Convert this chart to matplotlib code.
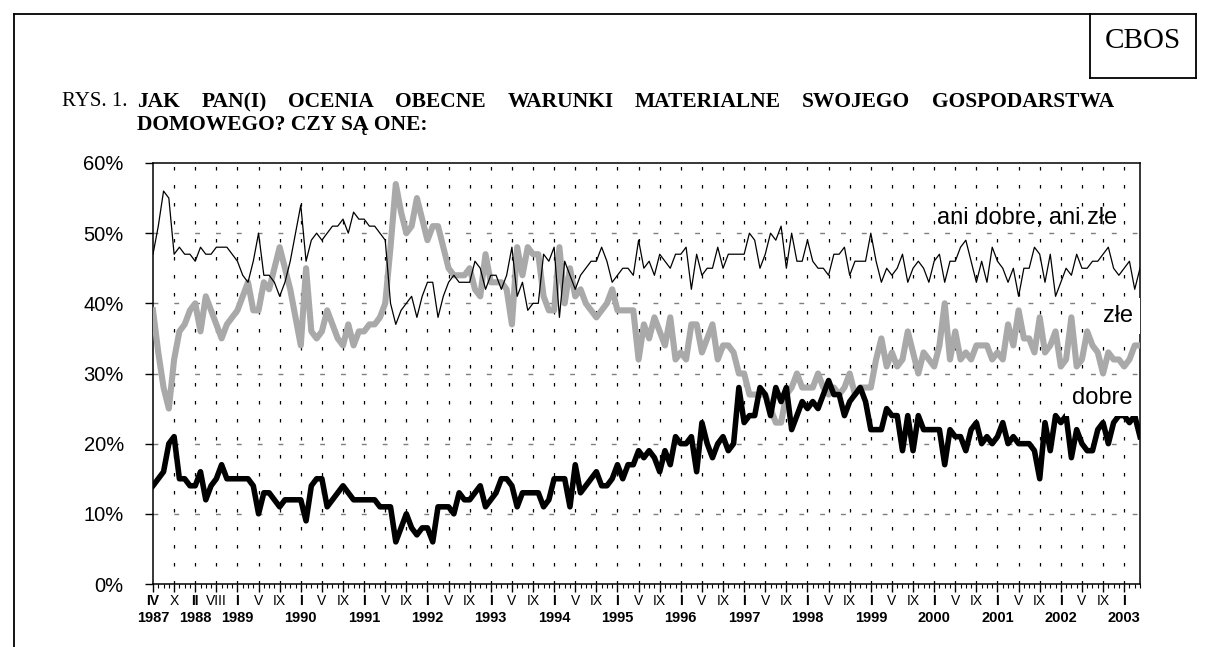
import matplotlib.pyplot as plt
from matplotlib.lines import Line2D

# Oceny warunkow materialnych (%), kolejne badania CBOS od IV 1987 do IV 2003
ani_dobre_ani_zle = [
    47, 51, 56, 55, 47, 48, 47, 47, 46, 48, 47, 47, 48, 48, 48, 47, 46, 44, 43, 46,
    50, 44, 44, 43, 41, 43, 46, 50, 54, 46, 49, 50, 49, 50, 51, 51, 52, 50, 53, 52,
    52, 51, 51, 50, 49, 40, 37, 39, 40, 41, 38, 41, 43, 43, 38, 41, 43, 44, 43, 43,
    43, 46, 45, 42, 44, 44, 42, 44, 48, 41, 43, 39, 40, 40, 47, 46, 48, 38, 46, 44,
    42, 44, 45, 46, 46, 48, 46, 43, 44, 45, 45, 44, 49, 45, 46, 44, 47, 46, 45, 47,
    47, 48, 42, 47, 44, 45, 45, 48, 45, 47, 47, 47, 47, 50, 49, 45, 47, 50, 49, 51,
    45, 50, 46, 46, 49, 46, 45, 45, 44, 47, 47, 48, 44, 46, 46, 46, 50, 46, 43, 45,
    44, 45, 47, 43, 45, 46, 45, 43, 46, 47, 43, 46, 46, 48, 49, 46, 43, 46, 43, 48,
    46, 45, 43, 45, 41, 45, 45, 48, 47, 43, 47, 41, 43, 45, 44, 47, 45, 45, 46, 46,
    47, 48, 45, 44, 45, 46, 42, 45,
]
zle = [
    39, 33, 28, 25, 32, 36, 37, 39, 40, 36, 41, 39, 37, 35, 37, 38, 39, 41, 43, 39,
    39, 43, 42, 45, 48, 45, 42, 38, 34, 45, 36, 35, 36, 39, 37, 35, 34, 37, 34, 36,
    36, 37, 37, 38, 40, 48, 57, 53, 50, 51, 55, 52, 49, 51, 51, 48, 45, 44, 44, 44,
    45, 42, 41, 47, 43, 43, 43, 42, 37, 48, 44, 48, 47, 47, 41, 39, 39, 48, 40, 45,
    41, 42, 40, 39, 38, 39, 40, 42, 39, 39, 39, 39, 32, 37, 35, 38, 36, 34, 38, 32,
    33, 32, 37, 37, 33, 35, 37, 32, 34, 34, 33, 30, 30, 27, 27, 27, 27, 25, 23, 23,
    27, 28, 30, 28, 28, 28, 30, 28, 27, 28, 27, 28, 30, 27, 28, 28, 28, 32, 35, 31,
    33, 31, 32, 36, 33, 30, 33, 32, 31, 34, 40, 32, 36, 32, 33, 32, 34, 34, 34, 32,
    33, 32, 37, 34, 39, 35, 35, 33, 38, 33, 34, 36, 31, 32, 38, 31, 32, 36, 34, 33,
    30, 33, 32, 32, 31, 32, 34, 34,
]
dobre = [
    14, 15, 16, 20, 21, 15, 15, 14, 14, 16, 12, 14, 15, 17, 15, 15, 15, 15, 15, 14,
    10, 13, 13, 12, 11, 12, 12, 12, 12, 9, 14, 15, 15, 11, 12, 13, 14, 13, 12, 12,
    12, 12, 12, 11, 11, 11, 6, 8, 10, 8, 7, 8, 8, 6, 11, 11, 11, 10, 13, 12,
    12, 13, 14, 11, 12, 13, 15, 15, 14, 11, 13, 13, 13, 13, 11, 12, 15, 15, 15, 11,
    17, 13, 14, 15, 16, 14, 14, 15, 17, 15, 17, 17, 19, 18, 19, 18, 16, 19, 17, 21,
    20, 20, 21, 16, 23, 20, 18, 20, 21, 19, 20, 28, 23, 24, 24, 28, 27, 24, 28, 26,
    28, 22, 24, 26, 25, 26, 25, 27, 29, 27, 27, 24, 26, 27, 28, 26, 22, 22, 22, 25,
    24, 24, 19, 24, 19, 24, 22, 22, 22, 22, 17, 22, 21, 21, 19, 22, 23, 20, 21, 20,
    21, 23, 20, 21, 20, 20, 20, 19, 15, 23, 19, 24, 23, 24, 18, 22, 20, 19, 19, 22,
    23, 20, 23, 24, 24, 23, 24, 21,
]

# podpisy osi X: co czwarte badanie
miesiace = ['IV', 'X', 'II', 'VIII'] + ['I', 'V', 'IX'] * 14 + ['I']
lata = ['1987', '', '1988', ''] + [y for r in range(1989, 2003) for y in (str(r), '', '')] + ['2003']

tytul_1 = 'JAK PAN(I) OCENIA OBECNE WARUNKI MATERIALNE SWOJEGO GOSPODARSTWA'
tytul_2 = 'DOMOWEGO? CZY SĄ ONE:'

W, H = 1209, 647
GRAY = '#a9a9a9'
SANS = 'Liberation Sans'
SERIF = 'Liberation Serif'


def fx(px):
    return px / W


def fy(py):
    return 1 - py / H


fig = plt.figure(figsize=(W / 100, H / 100), dpi=100)
fig.patch.set_facecolor('white')
rend = fig.canvas.get_renderer()

# ramka strony i okienko CBOS
frame = dict(color='black', linewidth=1.3, transform=fig.transFigure)
fig.add_artist(Line2D([fx(14), fx(14)], [fy(14), fy(647)], **frame))
fig.add_artist(Line2D([fx(14), fx(1196)], [fy(14), fy(14)], **frame))
fig.add_artist(Line2D([fx(1090), fx(1090)], [fy(14), fy(78)], **frame))
fig.add_artist(Line2D([fx(1090), fx(1196)], [fy(78), fy(78)], **frame))
fig.add_artist(Line2D([fx(1196), fx(1196)], [fy(14), fy(78)], **frame))
fig.text(fx(1143), fy(41), 'CBOS', family=SERIF, fontsize=21, ha='center', va='center')

# tytul - pierwsza linia wyjustowana do prawego marginesu
tkw = dict(family=SERIF, fontsize=15.5, weight='bold', va='center')
fig.text(fx(62), fy(102), 'RYS. 1.', family=SERIF, fontsize=15, va='center')
slowa = [fig.text(0, fy(102), s, **tkw) for s in tytul_1.split()]
szer = [t.get_window_extent(rend).width for t in slowa]
odstep = (1114 - 137 - sum(szer)) / (len(slowa) - 1)
pos = 137
for t, w in zip(slowa, szer):
    t.set_x(fx(pos))
    pos += w + odstep
fig.text(fx(137), fy(125), tytul_2, **tkw)

ax = fig.add_axes([fx(153), fy(584), fx(1140) - fx(153), fy(163) - fy(584)])
n = len(dobre)
x = list(range(n))
ax_h = 584 - 163

ax.set_xlim(0, n - 1)
ax.set_ylim(0, 60)

# siatka
for v in range(10, 60, 10):
    ax.axhline(v, color='#7f7f7f', linewidth=1.0, dashes=(3.5, 11.5), zorder=1)
for i in range(4, n, 4):
    ax.axvline(i, color='black', linewidth=0.9, dashes=(2.8, 11.6), zorder=1)

ax.plot(x, zle, color=GRAY, linewidth=4.4, solid_joinstyle='round', zorder=3)
ax.plot(x, ani_dobre_ani_zle, color='black', linewidth=0.9, zorder=4)
ax.plot(x, dobre, color='black', linewidth=4.0, solid_joinstyle='round', zorder=5)

for s in ax.spines.values():
    s.set_linewidth(1.1)
    s.set_color('black')

ax.set_yticks(range(0, 61, 10))
ax.set_yticklabels([f'{v}%' for v in range(0, 61, 10)], family=SANS, fontsize=14.5)
ax.tick_params(axis='y', direction='out', length=6, width=1, pad=15)

ax.set_xticks(range(0, n, 4))
ax.set_xticks(range(n), minor=True)
ax.tick_params(axis='x', which='major', direction='out', length=6, width=1, labelbottom=False)
ax.tick_params(axis='x', which='minor', direction='out', length=3, width=0.8)

for k, (m, r) in enumerate(zip(miesiace, lata)):
    xi = 4 * k
    wt = 'bold' if r else 'normal'
    ax.text(xi, -(601 - 584) / ax_h, m, transform=ax.get_xaxis_transform(),
            family=SANS, fontsize=10, weight=wt, ha='center', va='center')
    if r:
        ax.text(xi, -(618 - 584) / ax_h, r, transform=ax.get_xaxis_transform(),
                family=SANS, fontsize=10.5, weight='bold', ha='center', va='center')

# opisy serii
ax.text(182.6, 52.2, 'ani dobre, ani złe', family=SANS, fontsize=17,
        ha='right', va='center', zorder=6)
ax.text(185.7, 38.2, 'złe', family=SANS, fontsize=17, ha='right', va='center', zorder=6,
        clip_on=False, bbox=dict(facecolor='white', edgecolor='none', pad=5))
ax.text(185.5, 26.5, 'dobre', family=SANS, fontsize=17, ha='right', va='center', zorder=6,
        clip_on=False, bbox=dict(facecolor='white', edgecolor='none', pad=5))

fig.savefig('out.png', dpi=100)
